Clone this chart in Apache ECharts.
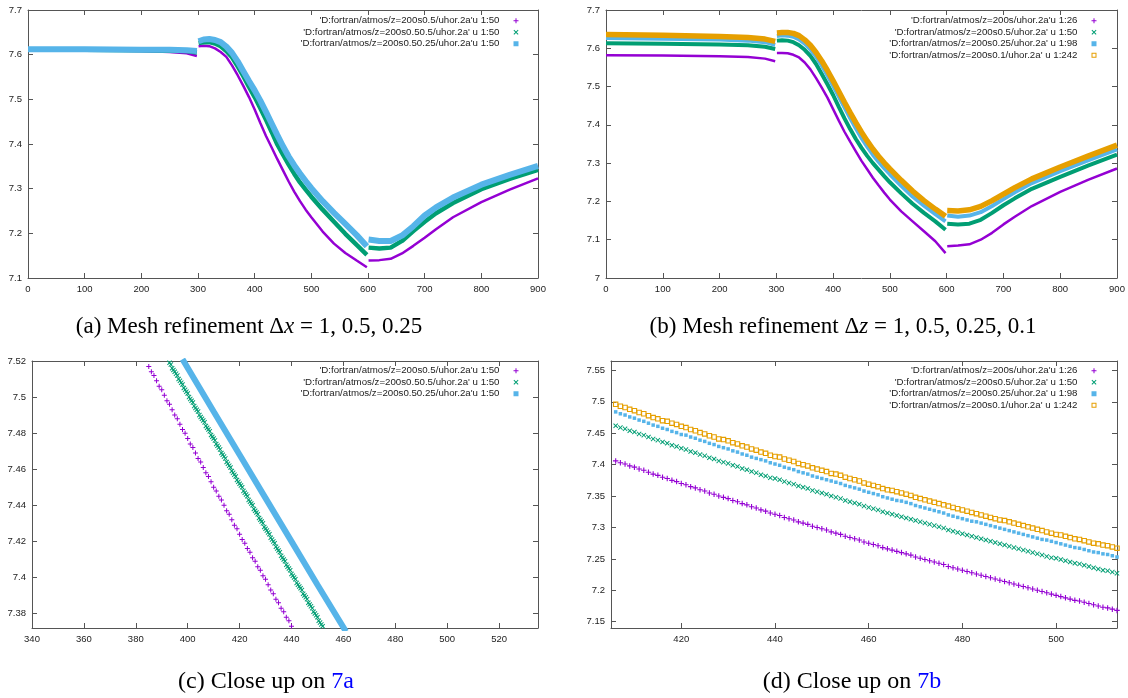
<!DOCTYPE html>
<html lang="en">
<head>
    <meta charset="UTF-8">
    <title>Mesh refinement</title>
    <script src="https://cdn.jsdelivr.net/npm/echarts@6/dist/echarts.min.js"></script>
    <style>
        html, body { margin: 0; padding: 0; background: #fff; }
    </style>
</head>
<body>
    <div id="main" style="width: 1128px;height:698px;"></div>
    <script type="text/javascript">
        // gnuplot key titles
        var namesA = [
            "'D:fortran/atmos/z=200s0.5/uhor.2a'u 1:50",
            "'D:fortran/atmos/z=200s0.50.5/uhor.2a' u 1:50",
            "'D:fortran/atmos/z=200s0.50.25/uhor.2a'u 1:50"
        ];
        var namesB = [
            "'D:fortran/atmos/z=200s/uhor.2a'u 1:26",
            "'D:fortran/atmos/z=200s0.5/uhor.2a' u 1:50",
            "'D:fortran/atmos/z=200s0.25/uhor.2a' u 1:98",
            "'D:fortran/atmos/z=200s0.1/uhor.2a' u 1:242"
        ];

        // (a) and (b): points, null = jump at x=300 and x=600
        var wideX = [0, 100, 200, 250, 280, 298, 299.5,
            301, 310, 320, 330, 340, 350, 360, 370, 380, 390, 400, 410, 420, 430, 440, 450, 460, 470, 480, 490, 500, 520, 540, 560, 580, 598, 599.5,
            601, 620, 640, 660, 680, 700, 720, 750, 800, 850, 900];

        var aPurple = [7.610, 7.610, 7.608, 7.606, 7.603, 7.597, null,
            7.619, 7.620, 7.619, 7.614, 7.606, 7.595, 7.576, 7.554, 7.530, 7.505, 7.477, 7.447, 7.418, 7.392, 7.366, 7.341, 7.316, 7.293, 7.272, 7.253, 7.236, 7.204, 7.177, 7.156, 7.139, 7.124, null,
            7.139, 7.140, 7.143, 7.155, 7.172, 7.190, 7.209, 7.236, 7.270, 7.298, 7.323];
        var aGreen = [7.611, 7.611, 7.610, 7.609, 7.608, 7.605, null,
            7.626, 7.628, 7.628, 7.625, 7.619, 7.608, 7.594, 7.574, 7.552, 7.528, 7.505, 7.480, 7.454, 7.427, 7.399, 7.376, 7.354, 7.333, 7.314, 7.298, 7.282, 7.253, 7.226, 7.199, 7.174, 7.152, null,
            7.168, 7.166, 7.168, 7.183, 7.205, 7.226, 7.245, 7.268, 7.299, 7.322, 7.342];
        var aBlue = [7.612, 7.612, 7.611, 7.611, 7.610, 7.608, null,
            7.630, 7.634, 7.635, 7.633, 7.628, 7.618, 7.604, 7.585, 7.563, 7.541, 7.520, 7.497, 7.472, 7.446, 7.420, 7.395, 7.372, 7.352, 7.334, 7.317, 7.301, 7.272, 7.246, 7.221, 7.196, 7.171, null,
            7.186, 7.183, 7.183, 7.195, 7.216, 7.240, 7.258, 7.280, 7.309, 7.331, 7.351];

        var bPurple = [7.582, 7.581, 7.579, 7.577, 7.573, 7.566, null,
            7.588, 7.588, 7.587, 7.583, 7.576, 7.563, 7.545, 7.522, 7.497, 7.471, 7.441, 7.411, 7.382, 7.356, 7.331, 7.306, 7.284, 7.262, 7.242, 7.223, 7.205, 7.174, 7.148, 7.122, 7.096, 7.065, null,
            7.083, 7.085, 7.088, 7.100, 7.118, 7.140, 7.160, 7.188, 7.225, 7.257, 7.286];
        var bGreen = [7.613, 7.612, 7.610, 7.608, 7.604, 7.598, null,
            7.620, 7.621, 7.620, 7.616, 7.608, 7.596, 7.580, 7.559, 7.533, 7.506, 7.478, 7.447, 7.417, 7.389, 7.363, 7.340, 7.319, 7.300, 7.283, 7.266, 7.250, 7.221, 7.194, 7.170, 7.148, 7.126, null,
            7.142, 7.140, 7.142, 7.152, 7.170, 7.190, 7.208, 7.233, 7.264, 7.294, 7.322];
        var bBlue = [7.627, 7.625, 7.623, 7.620, 7.616, 7.609, null,
            7.632, 7.634, 7.633, 7.630, 7.623, 7.612, 7.597, 7.578, 7.555, 7.529, 7.502, 7.474, 7.446, 7.418, 7.391, 7.366, 7.343, 7.322, 7.304, 7.287, 7.271, 7.241, 7.213, 7.189, 7.167, 7.148, null,
            7.163, 7.160, 7.163, 7.172, 7.188, 7.206, 7.224, 7.248, 7.279, 7.308, 7.336];
        var bOrange = [7.636, 7.634, 7.631, 7.628, 7.624, 7.618, null,
            7.640, 7.641, 7.641, 7.639, 7.633, 7.622, 7.608, 7.589, 7.567, 7.542, 7.515, 7.487, 7.459, 7.432, 7.406, 7.381, 7.358, 7.337, 7.318, 7.301, 7.285, 7.255, 7.227, 7.202, 7.180, 7.161, null,
            7.176, 7.175, 7.178, 7.187, 7.202, 7.219, 7.236, 7.259, 7.290, 7.319, 7.347];

        // (c) close up on (a)
        var cPurpleX = [385, 386, 387, 388, 389, 390, 391, 392, 393, 394, 395, 396, 397, 398, 399,
            400, 401, 402, 403, 404, 405, 406, 407, 408, 409, 410, 411, 412, 413, 414, 415, 416, 417, 418, 419,
            420, 421, 422, 423, 424, 425, 426, 427, 428, 429, 430, 431, 432, 433, 434, 435, 436, 437, 438, 439, 440];
        var cPurple = [7.517, 7.514, 7.512, 7.509, 7.506, 7.504, 7.501, 7.498, 7.496, 7.493, 7.490, 7.488, 7.485, 7.482, 7.480,
            7.477, 7.474, 7.472, 7.469, 7.466, 7.464, 7.461, 7.458, 7.456, 7.453, 7.450, 7.448, 7.445, 7.443, 7.440, 7.437, 7.435, 7.432, 7.429, 7.427,
            7.424, 7.421, 7.419, 7.416, 7.414, 7.411, 7.409, 7.406, 7.404, 7.401, 7.399, 7.396, 7.393, 7.391, 7.388, 7.386, 7.383, 7.381, 7.378, 7.376, 7.373];
        var cGreenX = [
            393, 393.5, 394, 394.5, 395, 395.5, 396, 396.5, 397, 397.5,
            398, 398.5, 399, 399.5, 400, 400.5, 401, 401.5, 402, 402.5,
            403, 403.5, 404, 404.5, 405, 405.5, 406, 406.5, 407, 407.5,
            408, 408.5, 409, 409.5, 410, 410.5, 411, 411.5, 412, 412.5,
            413, 413.5, 414, 414.5, 415, 415.5, 416, 416.5, 417, 417.5,
            418, 418.5, 419, 419.5, 420, 420.5, 421, 421.5, 422, 422.5,
            423, 423.5, 424, 424.5, 425, 425.5, 426, 426.5, 427, 427.5,
            428, 428.5, 429, 429.5, 430, 430.5, 431, 431.5, 432, 432.5,
            433, 433.5, 434, 434.5, 435, 435.5, 436, 436.5, 437, 437.5,
            438, 438.5, 439, 439.5, 440, 440.5, 441, 441.5, 442, 442.5,
            443, 443.5, 444, 444.5, 445, 445.5, 446, 446.5, 447, 447.5,
            448, 448.5, 449, 449.5, 450, 450.5, 451, 451.5, 452, 452.5];
        var cGreen = [
            7.519, 7.518, 7.516, 7.515, 7.514, 7.513, 7.512, 7.510, 7.509, 7.508,
            7.507, 7.505, 7.504, 7.503, 7.502, 7.500, 7.499, 7.498, 7.497, 7.495,
            7.494, 7.493, 7.492, 7.490, 7.489, 7.488, 7.487, 7.486, 7.484, 7.483,
            7.482, 7.481, 7.479, 7.478, 7.477, 7.476, 7.474, 7.473, 7.472, 7.471,
            7.469, 7.468, 7.467, 7.466, 7.464, 7.463, 7.462, 7.461, 7.459, 7.458,
            7.457, 7.456, 7.454, 7.453, 7.452, 7.451, 7.450, 7.448, 7.447, 7.446,
            7.445, 7.443, 7.442, 7.441, 7.440, 7.438, 7.437, 7.436, 7.435, 7.433,
            7.432, 7.431, 7.430, 7.428, 7.427, 7.426, 7.425, 7.424, 7.422, 7.421,
            7.420, 7.419, 7.417, 7.416, 7.415, 7.414, 7.412, 7.411, 7.410, 7.409,
            7.407, 7.406, 7.405, 7.404, 7.402, 7.401, 7.400, 7.399, 7.397, 7.396,
            7.395, 7.394, 7.393, 7.391, 7.390, 7.389, 7.388, 7.386, 7.385, 7.384,
            7.383, 7.381, 7.380, 7.379, 7.378, 7.376, 7.375, 7.374, 7.373, 7.371];
        var cBlueX = [398, 410, 420, 430, 440, 450, 461];
        var cBlue = [7.521, 7.492, 7.468, 7.444, 7.420, 7.396, 7.370];

        // (d) close up on (b)
        var dX = [406, 407, 408, 409, 410, 411, 412, 413, 414, 415,
            416, 417, 418, 419, 420, 421, 422, 423, 424, 425,
            426, 427, 428, 429, 430, 431, 432, 433, 434, 435,
            436, 437, 438, 439, 440, 441, 442, 443, 444, 445,
            446, 447, 448, 449, 450, 451, 452, 453, 454, 455,
            456, 457, 458, 459, 460, 461, 462, 463, 464, 465,
            466, 467, 468, 469, 470, 471, 472, 473, 474, 475,
            476, 477, 478, 479, 480, 481, 482, 483, 484, 485,
            486, 487, 488, 489, 490, 491, 492, 493, 494, 495,
            496, 497, 498, 499, 500, 501, 502, 503, 504, 505,
            506, 507, 508, 509, 510, 511, 512, 513];
        var dPurple = [7.406, 7.403, 7.401, 7.398, 7.396, 7.393, 7.391, 7.388, 7.385, 7.383,
            7.380, 7.378, 7.375, 7.373, 7.370, 7.368, 7.365, 7.363, 7.360, 7.358,
            7.355, 7.353, 7.350, 7.348, 7.346, 7.343, 7.341, 7.338, 7.336, 7.333,
            7.331, 7.328, 7.326, 7.323, 7.321, 7.319, 7.316, 7.314, 7.312, 7.309,
            7.307, 7.305, 7.302, 7.300, 7.298, 7.296, 7.293, 7.291, 7.289, 7.286,
            7.284, 7.282, 7.280, 7.277, 7.275, 7.273, 7.271, 7.268, 7.266, 7.264,
            7.262, 7.260, 7.258, 7.256, 7.253, 7.251, 7.249, 7.247, 7.245, 7.243,
            7.241, 7.238, 7.236, 7.234, 7.232, 7.230, 7.228, 7.226, 7.224, 7.222,
            7.220, 7.218, 7.216, 7.214, 7.212, 7.210, 7.208, 7.206, 7.204, 7.202,
            7.200, 7.198, 7.196, 7.194, 7.192, 7.190, 7.188, 7.186, 7.184, 7.183,
            7.181, 7.179, 7.177, 7.175, 7.173, 7.172, 7.170, 7.168];
        var dGreen = [7.462, 7.459, 7.457, 7.454, 7.452, 7.449, 7.447, 7.444, 7.441, 7.439,
            7.436, 7.434, 7.431, 7.429, 7.426, 7.424, 7.421, 7.419, 7.416, 7.414,
            7.411, 7.409, 7.406, 7.404, 7.402, 7.399, 7.397, 7.394, 7.392, 7.389,
            7.387, 7.384, 7.382, 7.379, 7.378, 7.376, 7.373, 7.371, 7.369, 7.366,
            7.364, 7.362, 7.359, 7.357, 7.355, 7.353, 7.350, 7.348, 7.346, 7.343,
            7.341, 7.339, 7.337, 7.334, 7.332, 7.330, 7.328, 7.325, 7.323, 7.321,
            7.319, 7.317, 7.315, 7.313, 7.311, 7.309, 7.307, 7.305, 7.303, 7.301,
            7.299, 7.296, 7.294, 7.292, 7.290, 7.288, 7.286, 7.284, 7.282, 7.280,
            7.278, 7.276, 7.274, 7.272, 7.270, 7.268, 7.266, 7.264, 7.262, 7.260,
            7.258, 7.256, 7.254, 7.252, 7.251, 7.249, 7.247, 7.245, 7.243, 7.242,
            7.240, 7.238, 7.236, 7.234, 7.232, 7.231, 7.229, 7.227];
        var dBlue = [7.484, 7.481, 7.479, 7.476, 7.474, 7.471, 7.469, 7.466, 7.463, 7.461,
            7.458, 7.456, 7.453, 7.451, 7.448, 7.447, 7.444, 7.442, 7.439, 7.437,
            7.434, 7.432, 7.429, 7.427, 7.425, 7.422, 7.420, 7.417, 7.415, 7.412,
            7.410, 7.408, 7.406, 7.403, 7.401, 7.399, 7.396, 7.394, 7.392, 7.389,
            7.387, 7.385, 7.382, 7.380, 7.378, 7.376, 7.374, 7.372, 7.370, 7.367,
            7.365, 7.363, 7.361, 7.358, 7.356, 7.354, 7.352, 7.349, 7.347, 7.345,
            7.343, 7.342, 7.340, 7.338, 7.335, 7.333, 7.331, 7.329, 7.327, 7.325,
            7.323, 7.320, 7.318, 7.316, 7.314, 7.312, 7.310, 7.309, 7.307, 7.305,
            7.303, 7.301, 7.299, 7.297, 7.295, 7.293, 7.291, 7.289, 7.287, 7.285,
            7.283, 7.281, 7.280, 7.278, 7.276, 7.274, 7.272, 7.270, 7.268, 7.267,
            7.265, 7.263, 7.261, 7.260, 7.258, 7.257, 7.255, 7.253];
        var dOrange = [7.496, 7.493, 7.491, 7.488, 7.486, 7.483, 7.481, 7.478, 7.475, 7.473,
            7.470, 7.469, 7.466, 7.464, 7.461, 7.459, 7.456, 7.454, 7.451, 7.449,
            7.446, 7.444, 7.441, 7.440, 7.438, 7.435, 7.433, 7.430, 7.428, 7.425,
            7.423, 7.420, 7.418, 7.415, 7.413, 7.412, 7.409, 7.407, 7.405, 7.402,
            7.400, 7.398, 7.395, 7.393, 7.391, 7.389, 7.386, 7.385, 7.383, 7.380,
            7.378, 7.376, 7.374, 7.371, 7.369, 7.367, 7.365, 7.362, 7.360, 7.359,
            7.357, 7.355, 7.353, 7.351, 7.348, 7.346, 7.344, 7.342, 7.340, 7.338,
            7.336, 7.334, 7.332, 7.330, 7.328, 7.326, 7.324, 7.322, 7.320, 7.318,
            7.316, 7.314, 7.312, 7.311, 7.309, 7.307, 7.305, 7.303, 7.301, 7.299,
            7.297, 7.295, 7.293, 7.291, 7.289, 7.288, 7.286, 7.284, 7.282, 7.281,
            7.279, 7.277, 7.275, 7.274, 7.272, 7.271, 7.269, 7.267];

        // gnuplot default colours and point types
        var purple = '#9400d3', green = '#009e73', blue = '#56b4e9', orange = '#e69f00';
        var plusIcon = 'path://M2,0h1v2h2v1h-2v2h-1v-2h-2v-1h2z';
        var crossIcon = 'path://M0,0.7L0.7,0L2.5,1.8L4.3,0L5,0.7L3.2,2.5L5,4.3L4.3,5L2.5,3.2L0.7,5L0,4.3L1.8,2.5z';
        var boxIcon = 'path://M0,0H5V5H0Z M1,1V4H4V1Z';

        var frame = '#555';
        var tickFont = 'Liberation Sans';

        function pairs(xs, ys) {
            return xs.map(function (x, i) { return [x, ys[i] == null ? '-' : ys[i]]; });
        }

        // bottom/left axes carry labels, top/right only mirror the ticks
        function axis(g, pos, min, max, interval, split, hideMin, hideMax) {
            var labelled = (pos === 'bottom' || pos === 'left');
            var ax = {
                gridIndex: g, type: 'value', position: pos, min: min, max: max,
                splitLine: {show: false},
                axisLine: {show: true, onZero: false, lineStyle: {color: frame, width: 1}},
                axisTick: {show: true, inside: true, length: 5, lineStyle: {color: frame}},
                axisLabel: {
                    show: labelled, fontSize: 9.5, fontFamily: tickFont, color: '#222', margin: 6,
                    showMinLabel: !hideMin, showMaxLabel: !hideMax
                }
            };
            if (interval) ax.interval = interval; else ax.splitNumber = split;
            return ax;
        }

        function key(names, icons, right, top) {
            return {
                orient: 'vertical', right: right, top: top, align: 'right', padding: 0,
                itemGap: 0, itemWidth: 5, itemHeight: 5, selectedMode: false,
                itemStyle: {borderWidth: 0},
                textStyle: {fontSize: 9.7, fontFamily: tickFont, color: '#222', lineHeight: 11.5, padding: [0, 9, 0, 0]},
                data: names.map(function (n, i) { return {name: n, icon: icons[i]}; })
            };
        }

        function caption(x, y, size, text) {
            return {
                type: 'text', x: x, y: y,
                style: {
                    text: text, fontFamily: 'Liberation Serif', fontSize: size, fill: '#000',
                    align: 'center', verticalAlign: 'middle',
                    rich: {
                        i: {fontFamily: 'Liberation Serif', fontSize: size, fontStyle: 'italic', fill: '#000'},
                        r: {fontFamily: 'Liberation Serif', fontSize: size, fill: '#0000ff'}
                    }
                }
            };
        }

        var myChart = echarts.init(document.getElementById('main'));

        var option = {
            animation: false,
            backgroundColor: '#fff',
            grid: [
                {left: 28, top: 10, width: 510, height: 268},
                {left: 606, top: 10, width: 511, height: 268},
                {left: 32, top: 361, width: 506, height: 267},
                {left: 611, top: 361, width: 506, height: 267}
            ],
            xAxis: [
                axis(0, 'bottom', 0, 900, 100), axis(0, 'top', 0, 900, 100),
                axis(1, 'bottom', 0, 900, 100), axis(1, 'top', 0, 900, 100),
                axis(2, 'bottom', 340, 535, null, 10, false, true), axis(2, 'top', 340, 535, null, 10),
                axis(3, 'bottom', 405, 513, null, 5, true, true), axis(3, 'top', 405, 513, null, 5)
            ],
            yAxis: [
                axis(0, 'left', 7.1, 7.7, 0.1), axis(0, 'right', 7.1, 7.7, 0.1),
                axis(1, 'left', 7, 7.7, 0.1), axis(1, 'right', 7, 7.7, 0.1),
                axis(2, 'left', 7.372, 7.52, null, 7, true, false), axis(2, 'right', 7.372, 7.52, null, 7),
                axis(3, 'left', 7.14, 7.565, null, 8, true, true), axis(3, 'right', 7.14, 7.565, null, 8)
            ],
            legend: [
                key(namesA, [plusIcon, crossIcon, 'rect'], 609.5, 15),
                key(namesB, [plusIcon, crossIcon, 'rect', boxIcon], 31.5, 15),
                key(namesA, [plusIcon, crossIcon, 'rect'], 609.5, 365),
                key(namesB, [plusIcon, crossIcon, 'rect', boxIcon], 31.5, 365)
            ],
            series: [
                // (a)
                {name: namesA[0], type: 'line', xAxisIndex: 0, yAxisIndex: 0, data: pairs(wideX, aPurple), symbol: 'none', color: purple, lineStyle: {width: 2.5}},
                {name: namesA[1], type: 'line', xAxisIndex: 0, yAxisIndex: 0, data: pairs(wideX, aGreen), symbol: 'none', color: green, lineStyle: {width: 4.5}},
                {name: namesA[2], type: 'line', xAxisIndex: 0, yAxisIndex: 0, data: pairs(wideX, aBlue), symbol: 'none', color: blue, lineStyle: {width: 6}},
                // (b)
                {name: namesB[0], type: 'line', xAxisIndex: 2, yAxisIndex: 2, data: pairs(wideX, bPurple), symbol: 'none', color: purple, lineStyle: {width: 2.5}},
                {name: namesB[1], type: 'line', xAxisIndex: 2, yAxisIndex: 2, data: pairs(wideX, bGreen), symbol: 'none', color: green, lineStyle: {width: 4}},
                {name: namesB[2], type: 'line', xAxisIndex: 2, yAxisIndex: 2, data: pairs(wideX, bBlue), symbol: 'none', color: blue, lineStyle: {width: 4}},
                {name: namesB[3], type: 'line', xAxisIndex: 2, yAxisIndex: 2, data: pairs(wideX, bOrange), symbol: 'none', color: orange, lineStyle: {width: 5.5}},
                // (c)
                {name: namesA[0], type: 'scatter', xAxisIndex: 4, yAxisIndex: 4, data: pairs(cPurpleX, cPurple), symbol: plusIcon, symbolSize: 5, itemStyle: {color: purple, opacity: 1}},
                {name: namesA[1], type: 'scatter', xAxisIndex: 4, yAxisIndex: 4, data: pairs(cGreenX, cGreen), symbol: crossIcon, symbolSize: 5, itemStyle: {color: green, opacity: 1}},
                {name: namesA[2], type: 'line', xAxisIndex: 4, yAxisIndex: 4, data: pairs(cBlueX, cBlue), symbol: 'none', color: blue, lineStyle: {width: 6}},
                // (d)
                {name: namesB[0], type: 'scatter', xAxisIndex: 6, yAxisIndex: 6, data: pairs(dX, dPurple), symbol: plusIcon, symbolSize: 5.5, itemStyle: {color: purple, opacity: 1}},
                {name: namesB[1], type: 'scatter', xAxisIndex: 6, yAxisIndex: 6, data: pairs(dX, dGreen), symbol: crossIcon, symbolSize: 5, itemStyle: {color: green, opacity: 1}},
                {name: namesB[2], type: 'scatter', xAxisIndex: 6, yAxisIndex: 6, data: pairs(dX, dBlue), symbol: 'rect', symbolSize: 3.5, itemStyle: {color: blue, opacity: 1}},
                {name: namesB[3], type: 'scatter', xAxisIndex: 6, yAxisIndex: 6, data: pairs(dX, dOrange), symbol: boxIcon, symbolSize: 5.5, itemStyle: {color: orange, opacity: 1}}
            ],
            graphic: [
                caption(249, 327, 23, '(a) Mesh refinement Δ{i|x} = 1, 0.5, 0.25'),
                caption(843, 327, 23, '(b) Mesh refinement Δ{i|z} = 1, 0.5, 0.25, 0.1'),
                caption(266, 682, 24, '(c) Close up on {r|7a}'),
                caption(852, 682, 24, '(d) Close up on {r|7b}')
            ]
        };

        myChart.setOption(option);
    </script>
</body>
</html>
